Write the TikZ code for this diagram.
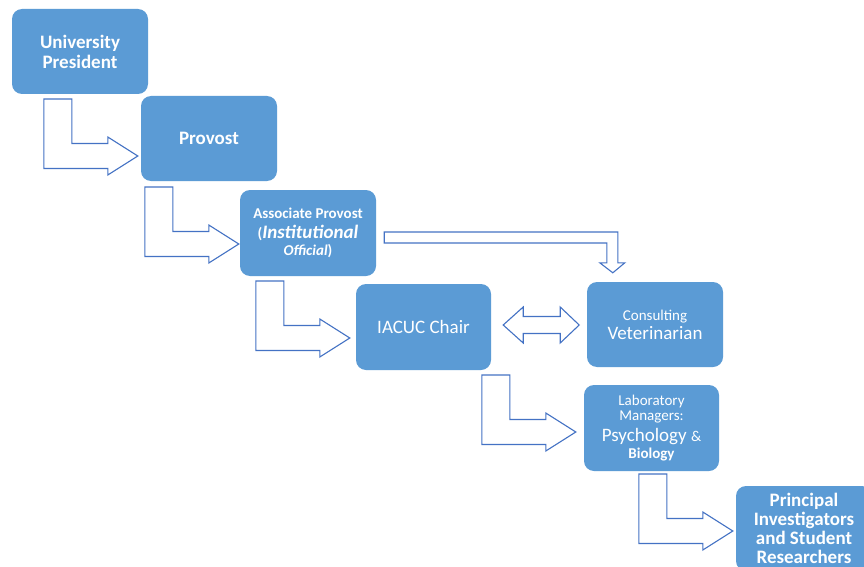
\documentclass[tikz,border=0pt]{standalone}
\usepackage{fontspec}
\setmainfont{Carlito}
\usetikzlibrary{calc}
\definecolor{boxblue}{HTML}{5B9BD5}
\definecolor{arrblue}{HTML}{4472C4}
\newcommand{\bigtx}{\fontsize{19}{20}\selectfont}
\newcommand{\smltx}{\fontsize{15}{16}\selectfont}
\begin{document}
\begin{tikzpicture}[x=1pt,y=-1pt,
  box/.style={fill=boxblue,draw=none,rounded corners=10pt,text=white,align=center,
    minimum width=136pt,minimum height=85pt,inner sep=0pt,font=\bigtx},
  arr/.style={draw=arrblue,line width=1.1pt,fill=white,line join=miter}]
\clip (0,0) rectangle (864,567);
\fill[white] (0,0) rectangle (864,567);
% boxes
\node[box,font=\bigtx\bfseries] (b1) at (80,51.5) {University\\President};
\node[box,font=\bigtx\bfseries] (b2) at (209,138.5) {Provost};
\node[box,minimum height=86pt,font=\bigtx\bfseries] (b3) at (308,233) {{\smltx Associate Provost}\\
  {\smltx(}{\itshape Institutional}\\[-3pt]{\smltx\itshape Official}{\smltx)}};
\node[box,minimum width=135pt,minimum height=86pt] (b4) at (423.5,327) {IACUC Chair};
\node[box] (b5) at (655,324.5) {{\smltx Consulting}\\[-1pt]Veterinarian};
\node[box,minimum width=135pt,minimum height=86pt] (b6) at (651.5,428) {{\smltx Laboratory}\\[-5pt]
  {\smltx Managers:}\\[1pt]Psychology {\smltx\&}\\[-3pt]{\smltx\bfseries Biology}};
\node[box,font=\fontsize{19}{19}\selectfont\bfseries] (b7) at (804,528.5) {Principal\\Investigators\\and Student\\Researchers};
% elbow arrows: tips placed at target boxes
\coordinate (t1) at ($(b2.west)+(-3,17.5)$);
\coordinate (t2) at ($(b3.west)+(-1,11)$);
\coordinate (t3) at ($(b4.west)+(-6,11)$);
\coordinate (t4) at ($(b6.west)+(-8,4)$);
\coordinate (t5) at ($(b7.west)+(-3,2.5)$);
\foreach \t in {t1,t2,t3,t4,t5}{
  \draw[arr,shift={(\t)}] (0,0) -- (-30,-19) -- (-30,-12.5) -- (-66,-12.5) -- (-66,-57)
    -- (-94,-57) -- (-94,12.5) -- (-30,12.5) -- (-30,19) -- cycle;
}
% arrow from Associate Provost down to Consulting Veterinarian
\coordinate (h1) at ($(b3.east)+(8,-1)$);
\coordinate (h2) at ($(b5.north west)+(26,-9)$);
\draw[arr] (h1) -- ($(h1 -| h2)+(5,0)$) -- ($(h2)+(5,-10)$) -- ($(h2)+(12,-10)$) -- (h2)
  -- ($(h2)+(-13,-10)$) -- ($(h2)+(-6,-10)$) -- ($(h1 -| h2)+(-6,11)$) -- ($(h1)+(0,11)$) -- cycle;
% double arrow between IACUC Chair and Consulting Veterinarian
\coordinate (dl) at ($(b4.east)+(12,-2)$);
\draw[arr,shift={(dl)}] (0,0) -- (20,-18) -- (20,-8.5) -- (57,-8.5) -- (57,-18) -- (76,0)
  -- (57,18) -- (57,8.5) -- (20,8.5) -- (20,18) -- cycle;
\end{tikzpicture}
\end{document}
